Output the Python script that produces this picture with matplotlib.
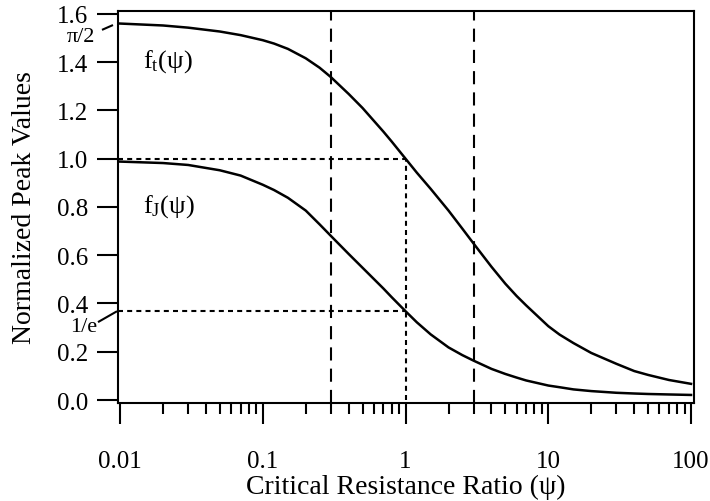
import numpy as np
import matplotlib
matplotlib.use("Agg")
import matplotlib.pyplot as plt
import matplotlib.transforms as mtransforms
from matplotlib.ticker import LogLocator, FixedLocator, NullFormatter

plt.rcParams['font.family'] = ['Liberation Serif', 'DejaVu Serif']
plt.rcParams['mathtext.fontset'] = 'custom'
plt.rcParams['mathtext.rm'] = 'Liberation Serif'
plt.rcParams['mathtext.it'] = 'Liberation Serif:italic'

# critical resistance ratio samples
psi = [0.01, 0.02, 0.03, 0.05, 0.07, 0.1, 0.12, 0.15, 0.2, 0.25, 0.3, 0.4,
       0.5, 0.7, 0.8, 1.0, 1.2, 1.5, 2.0, 2.5, 3.0, 4.0, 5.0, 6.0, 7.0, 10.0,
       12.0, 15.0, 20.0, 30.0, 40.0, 50.0, 70.0, 100.0]
# normalized peak values
f_t = [1.560, 1.552, 1.543, 1.527, 1.512, 1.491, 1.477, 1.455, 1.416, 1.377,
       1.338, 1.268, 1.210, 1.112, 1.071, 1.000, 0.942, 0.875, 0.785, 0.710,
       0.648, 0.552, 0.482, 0.431, 0.392, 0.306, 0.271, 0.236, 0.195, 0.150,
       0.120, 0.104, 0.083, 0.067]
f_J = [0.988, 0.982, 0.974, 0.952, 0.930, 0.892, 0.870, 0.838, 0.785, 0.728,
       0.680, 0.605, 0.548, 0.462, 0.426, 0.368, 0.322, 0.272, 0.218, 0.186,
       0.163, 0.129, 0.108, 0.093, 0.081, 0.060, 0.053, 0.044, 0.037, 0.030,
       0.027, 0.025, 0.023, 0.021]

x_ticks = [0.01, 0.1, 1, 10, 100]
x_tick_labels = ['0.01', '0.1', '1', '10', '100']
y_ticks = [0.0, 0.2, 0.4, 0.6, 0.8, 1.0, 1.2, 1.4, 1.6]
y_tick_labels = ['0.0', '0.2', '0.4', '0.6', '0.8', '1.0', '1.2', '1.4', '1.6']
marked_values = [np.pi / 2, 1 / np.e]
marked_labels = ['\u03c0/2', '1/e']
psi_dashed = [0.3, 3.0]
psi_ref = 1.0

fig = plt.figure(figsize=(7.10, 5.02), dpi=100)
ax = fig.add_axes([0.1662, 0.1952, 0.8113, 0.7809])

ax.plot(psi, f_t, color='black', lw=1.8, solid_joinstyle='round')
ax.plot(psi, f_J, color='black', lw=1.8, solid_joinstyle='round')

# dashed guides
for xv in psi_dashed:
    ax.axvline(xv, color='black', lw=1.5, dashes=(6.3, 3.9))

# dotted guides at psi = 1
ax.plot([0.0097, psi_ref], [1.0, 1.0], color='black', lw=1.5, dashes=(2.4, 2.0))
ax.plot([0.0097, psi_ref], [1 / np.e, 1 / np.e], color='black', lw=1.5, dashes=(2.4, 2.0))
ax.plot([psi_ref, psi_ref], [0.0, 1.0], color='black', lw=1.5, dashes=(2.4, 2.0))

ax.set_xscale('log')
ax.set_xlim(0.00968, 104.9)
ax.set_ylim(-0.0124, 1.612)

for s in ax.spines.values():
    s.set_linewidth(1.5)

ax.xaxis.set_major_locator(FixedLocator(x_ticks))
ax.set_xticklabels(x_tick_labels)
ax.xaxis.set_minor_locator(LogLocator(base=10, subs=np.arange(2, 10)))
ax.xaxis.set_minor_formatter(NullFormatter())
ax.set_yticks(y_ticks)
ax.set_yticklabels(y_tick_labels)

ax.tick_params(axis='x', which='major', direction='out', length=15, width=1.5,
               labelsize=18, pad=19)
ax.tick_params(axis='x', which='minor', direction='out', length=8, width=1.5)
ax.tick_params(axis='y', which='major', direction='out', length=15, width=1.5,
               labelsize=18, pad=6.5)
ax.tick_params(top=False, right=False)

ax.set_xlabel('Critical Resistance Ratio (\u03c8)', fontsize=20, labelpad=1)
ax.set_ylabel('Normalized Peak Values', fontsize=20, labelpad=14)

# special values marked beside the y axis
trans = mtransforms.blended_transform_factory(ax.transAxes, ax.transData)
label_x = [-0.040, -0.036]
label_offsets = [-0.064, -0.065]
mark_segments = [((-0.0278, -0.037), (-0.0087, -0.017)),
                 ((-0.0347, -0.045), (-0.0017, 0.0))]
for val, lab, lx, off, seg in zip(marked_values, marked_labels, label_x,
                                  label_offsets, mark_segments):
    ax.text(lx, val + off, lab, transform=trans, ha='right', va='center',
            fontsize=16, clip_on=False)
    (x0, dy0), (x1, dy1) = seg
    ax.plot([x0, x1], [val + dy0, val + dy1], transform=trans, color='black',
            lw=1.5, clip_on=False, solid_capstyle='butt')

ax.text(0.0145, 1.38, r'$\mathrm{f}_{\mathrm{t}}\mathrm{(\psi)}$', fontsize=19)
ax.text(0.0145, 0.779, r'$\mathrm{f}_{\mathrm{J}}\mathrm{(\psi)}$', fontsize=19)

fig.savefig('out.png', dpi=100)
